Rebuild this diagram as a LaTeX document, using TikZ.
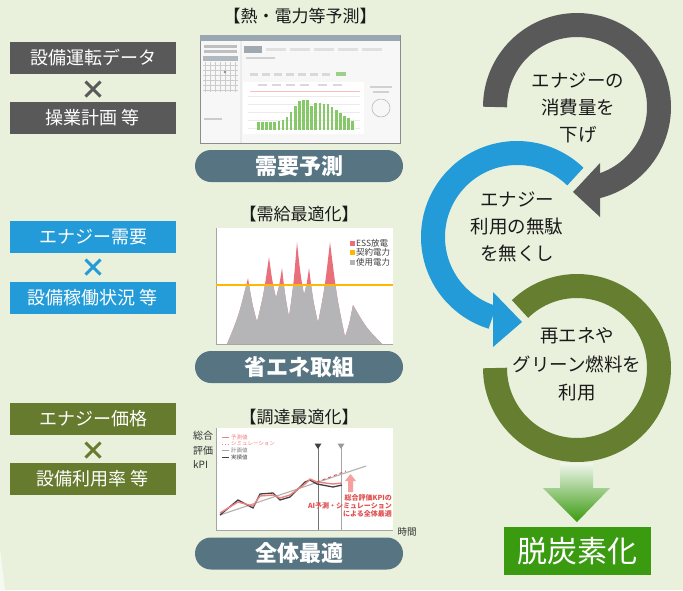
\documentclass[tikz,border=0pt]{standalone}
\usepackage{fontspec}
\setmainfont{Noto Sans CJK JP}
\definecolor{bg}{HTML}{E9F1DD}
\definecolor{dgray}{HTML}{595959}
\definecolor{blu}{HTML}{239BD8}
\definecolor{olv}{HTML}{667B2D}
\definecolor{grn}{HTML}{667E2F}
\definecolor{pillc}{HTML}{577482}
\definecolor{fgrn}{HTML}{3A9A10}
\definecolor{txt}{HTML}{1A1A1A}
\definecolor{pinkc}{HTML}{E9707B}
\definecolor{mgray}{HTML}{B5B5B8}
\definecolor{orng}{HTML}{FFB800}
\definecolor{barg}{HTML}{86C86A}
\definecolor{redt}{HTML}{E05050}
\definecolor{hdrc}{HTML}{9BA7B0}
\definecolor{selc}{HTML}{B0B8C0}
\definecolor{tabc}{HTML}{A0A8B0}
\definecolor{lgrn}{HTML}{9AD08A}
\definecolor{pinkl}{HTML}{F08080}
\definecolor{pinka}{HTML}{F4A0A0}
\begin{document}
\begin{tikzpicture}[x=1pt,y=1pt,
  lbox/.style={minimum width=166pt, minimum height=32pt, inner sep=0pt, text=white, font=\fontsize{18}{20}\selectfont},
  pill/.style={rounded corners=16pt, fill=pillc, minimum width=208pt, minimum height=32pt, inner sep=0pt, text=white, font=\bfseries\fontsize{22}{23}\selectfont},
  ttl/.style={font=\fontsize{17}{18}\selectfont, text=txt, inner sep=0pt},
  cross/.style={font=\bfseries\fontsize{26}{26}\selectfont, inner sep=0pt},
  ring/.style={line width=24pt},
  ringtxt/.style={align=center, text=txt, inner sep=0pt, font=\fontsize{18.5}{27}\selectfont},
  legt/.style={inner sep=0pt, text=black!75, font=\fontsize{8.5}{9}\selectfont},
  smallt/.style={inner sep=0pt, font=\fontsize{5.5}{6}\selectfont}
]
\fill[bg] (0,0) rectangle (683,-590);
\useasboundingbox (0,0) rectangle (683,-590);
\fill[white!60!bg] (0,-548) -- (5,-590) -- (0,-590) -- cycle;

% ---------- left boxes ----------
\node[lbox, fill=dgray] (b1) at (93,-58) {設備運転データ};
\node[cross, text=dgray] (x1) at (93,-90) {×};
\node[lbox, fill=dgray] (b2) at (93,-118) {操業計画 等};
\node[lbox, fill=blu] (b3) at (93,-237) {エナジー需要};
\node[cross, text=blu] (x2) at (93,-268) {×};
\node[lbox, fill=blu] (b4) at (93,-298) {設備稼働状況 等};
\node[lbox, fill=olv] (b5) at (93,-419) {エナジー価格};
\node[cross, text=olv] (x3) at (93,-451) {×};
\node[lbox, fill=olv] (b6) at (93,-479) {設備利用率 等};

% ---------- titles and pills ----------
\node[ttl] (tt1) at (300,-16) {【熱・電力等予測】};
\node[ttl] (tt2) at (299,-214) {【需給最適化】};
\node[ttl] (tt3) at (299,-417) {【調達最適化】};
\node[pill] (p1) at (299,-166) {需要予測};
\node[pill] (p2) at (299,-367) {省エネ取組};
\node[pill] (p3) at (299,-553.5) {全体最適};

% ---------- screenshot chart ----------
\fill[black!8, draw=black!45, line width=0.8pt] (200,-35) rectangle (400,-143);
\fill[hdrc] (200.4,-35.4) rectangle (399.6,-41);
\fill[black!3] (201,-41) rectangle (240,-142.5);
\fill[black!25] (204,-45) rectangle (237,-48);
\fill[black!25] (204,-50) rectangle (237,-53);
\fill[selc] (203,-56) rectangle (238,-61);
\draw[black!20, line width=0.4pt] (203,-62) grid[xstep=5, ystep=5] (238,-92);
\fill[black!45] (225,-72) circle (1.3);
\fill[black!20] (204,-118) rectangle (222,-120);
\fill[black!3] (242,-41) rectangle (399.5,-142.5);
\fill[tabc] (244,-46) rectangle (262,-53);
\foreach \xx in {266,290,314,338,362} { \fill[black!12] (\xx,-48) rectangle ++(20,-3); }
\fill[black!18] (246,-57) rectangle (275,-59);
\fill[white] (243,-82) rectangle (364,-134);
\foreach \xx in {250,262,274,286,298,310,322} { \fill[black!15] (\xx,-73) rectangle ++(8,-2.5); }
\fill[lgrn] (336,-72) rectangle (346,-76);
\foreach \xx in {258,272,286,300,318,333} { \fill[black!15] (\xx,-84) rectangle ++(9,-2); }
\draw[red!25, line width=0.5pt] (250,-91) -- (360,-91);
\foreach \yy in {-96,-104,-112,-120,-128} { \draw[black!8, line width=0.3pt] (248,\yy) -- (360,\yy); }
\foreach \h [count=\i from 0] in {122,122,122,122,122,121,120,117,112,106,101,100,100,106,103,103,104,104,107,110,113,116,118,121} {
  \fill[barg] ({257+\i*4.1},-130) rectangle ({259.6+\i*4.1},-\h);
}
\fill[black!18] (370,-86) rectangle (392,-88);
\fill[black!18] (373,-91) rectangle (389,-93);
\draw[black!30, line width=0.5pt] (381,-108) circle (9);

% ---------- supply chart ----------
\fill[white] (216,-228) rectangle (393,-344);
\fill[pinkc] (227,-344) .. controls (238.6,-316.3) .. (248,-278) .. controls (252.1,-303.5) .. (257,-322) .. controls (263.6,-294.7) .. (269,-257) .. controls (272.2,-280.8) .. (276,-298) .. controls (279.3,-285.4) .. (282,-268) .. controls (285.2,-296.4) .. (289,-317) .. controls (293.4,-285.5) .. (297,-242) .. controls (300.2,-272.7) .. (304,-295) .. controls (306.8,-283.7) .. (309,-268) .. controls (313.0,-299.9) .. (318,-323) .. controls (324.6,-289.0) .. (330,-242) .. controls (336.8,-297.1) .. (345,-337) .. controls (349.4,-323.6) .. (353,-305) .. controls (366.1,-327.6) .. (382,-344) -- cycle;
\begin{scope}
\clip (216,-285) rectangle (393,-344);
\fill[mgray] (227,-344) .. controls (238.6,-316.3) .. (248,-278) .. controls (252.1,-303.5) .. (257,-322) .. controls (263.6,-294.7) .. (269,-257) .. controls (272.2,-280.8) .. (276,-298) .. controls (279.3,-285.4) .. (282,-268) .. controls (285.2,-296.4) .. (289,-317) .. controls (293.4,-285.5) .. (297,-242) .. controls (300.2,-272.7) .. (304,-295) .. controls (306.8,-283.7) .. (309,-268) .. controls (313.0,-299.9) .. (318,-323) .. controls (324.6,-289.0) .. (330,-242) .. controls (336.8,-297.1) .. (345,-337) .. controls (349.4,-323.6) .. (353,-305) .. controls (366.1,-327.6) .. (382,-344) -- cycle;
\end{scope}
\draw[black!35, line width=0.6pt] (216,-228) -- (216,-344) -- (393,-344);
\draw[orng, line width=2.5pt] (216,-285) -- (393,-285);
\fill[pinkc] (349.5,-240.5) rectangle +(5,-5);
\node[legt, anchor=west] (lg1) at (356,-243) {ESS放電};
\fill[orng] (349.5,-250) rectangle +(5,-5);
\node[legt, anchor=west] (lg2) at (356,-252.5) {契約電力};
\fill[mgray] (349.5,-259.5) rectangle +(5,-5);
\node[legt, anchor=west] (lg3) at (356,-262) {使用電力};

% ---------- procurement chart ----------
\fill[white] (216,-428) rectangle (393,-530);
\draw[black!35, line width=0.6pt] (216,-428) -- (216,-530) -- (393,-530);
\draw[black!55, line width=0.6pt] (318,-447) -- (318,-530);
\draw[black!35, line width=0.6pt] (341,-447) -- (341,-530);
\fill[black!75] (318,-449) -- (314.5,-443.5) -- (321.5,-443.5) -- cycle;
\fill[black!40] (341,-449) -- (337.5,-443.5) -- (344.5,-443.5) -- cycle;
\draw[black!30, line width=1.1pt] (220,-515) -- (366,-466);
\draw[black!75, line width=1.3pt] (220,-515) -- (238,-500) -- (253,-508) -- (260,-494) -- (273,-493) -- (280,-500) -- (290,-497) -- (305,-482) -- (310,-480) -- (317,-484) -- (333,-487) -- (342,-485);
\draw[pinkl, line width=1.4pt] (220,-513) -- (238,-502) -- (253,-506) -- (260,-496) -- (273,-495) -- (280,-498) -- (290,-495) -- (305,-484) -- (310,-479) -- (317,-482) -- (333,-484) -- (342,-483);
\draw[redt, line width=0.9pt, dashed] (317,-482) -- (346,-471);
\fill[pinka] (348,-492) -- (348,-481) -- (345,-481) -- (350.5,-474) -- (356,-481) -- (353,-481) -- (353,-492) -- cycle;
\node[smallt, anchor=east, align=right, text=redt, font=\bfseries\fontsize{7}{8}\selectfont] (rt) at (392,-505.5) {総合評価KPIの\\AI予測・シミュレーション\\による全体最適};
\draw[pinkl, line width=0.8pt] (222,-437) -- (229,-437);
\node[smallt, anchor=west, text=pinkl] (l1) at (231,-437) {予測値};
\draw[pinkl, line width=0.8pt, dotted] (222,-444) -- (229,-444);
\node[smallt, anchor=west, text=pinkl] (l2) at (231,-444) {シミュレーション};
\draw[black!35, line width=0.8pt] (222,-450.5) -- (229,-450.5);
\node[smallt, anchor=west, text=black!50] (l3) at (231,-450.5) {計画値};
\draw[black!75, line width=0.8pt] (222,-457) -- (229,-457);
\node[smallt, anchor=west, text=black!70] (l4) at (231,-457) {実績値};
\node[anchor=north west, align=left, inner sep=0pt, text=black!80, font=\fontsize{10}{14.5}\selectfont] (kpi) at (193,-431) {総合\\評価\\kPI};
\node[inner sep=0pt, text=black!80, font=\fontsize{9.5}{10}\selectfont] (jk) at (407,-532) {時間};

% ---------- rings ----------
\draw[ring, grn] (577,-368) ++(134:82) arc[start angle=134, end angle=-180, radius=82];
\draw[ring, dgray] (577,-107) ++(180:82) arc[start angle=180, end angle=-76, radius=82];
\fill[dgray] (573,-192) -- (600,-163) -- (600,-217) -- cycle;
\draw[ring, blu] (517,-237) ++(46:84) arc[start angle=46, end angle=253, radius=84];
\fill[blu] (522,-322) -- (493,-292) -- (493,-347) -- cycle;
\node[ringtxt] (t1) at (578,-108) {エナジーの\\消費量を\\下げ};
\node[ringtxt] (t2) at (517,-226.5) {エナジー\\利用の無駄\\を無くし};
\node[ringtxt, font=\fontsize{18.5}{28.5}\selectfont] (t3) at (577,-364.5) {再エネや\\グリーン燃料を\\利用};

% ---------- down arrow and result ----------
\shade[top color=fgrn!8!white, middle color=fgrn!80!white, bottom color=fgrn] (560,-463) -- (593,-463) -- (593,-488) -- (610,-488) -- (577,-522) -- (543,-488) -- (560,-488) -- cycle;
\node[fill=fgrn, minimum width=147pt, minimum height=48pt, inner sep=0pt, text=white, font=\fontsize{30}{32}\selectfont] (dc) at (577.5,-551) {脱炭素化};
\end{tikzpicture}
\end{document}
